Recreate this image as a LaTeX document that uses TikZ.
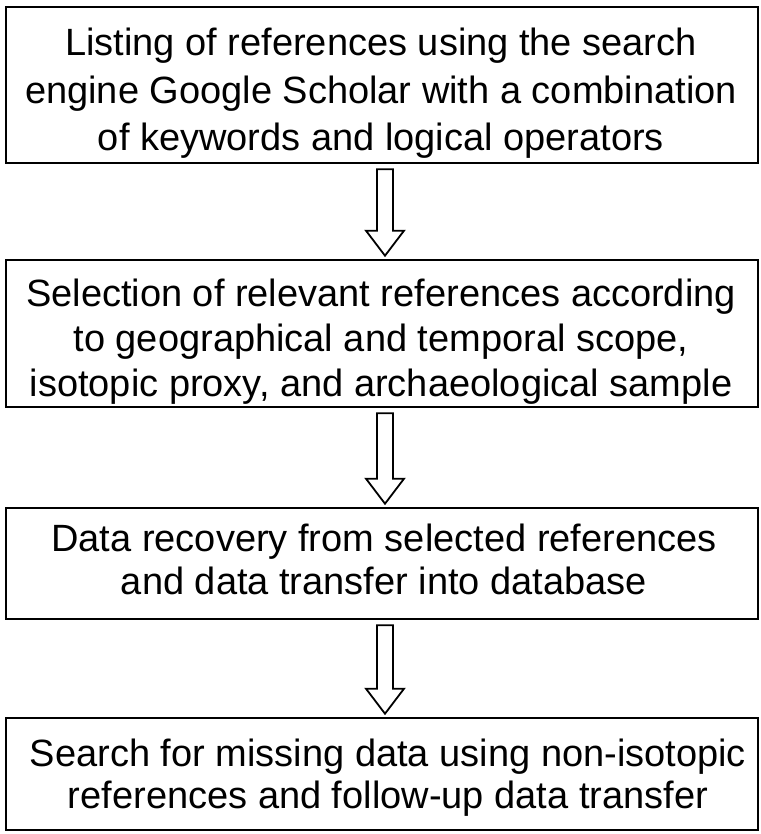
\documentclass[tikz,border=0pt]{standalone}
\usepackage{fontspec}
\setmainfont{Liberation Sans}
\usetikzlibrary{calc}
\tikzset{
  box/.style={draw=black, line width=2.6pt, fill=white, minimum width=752pt, inner sep=0pt},
  txt/.style={anchor=base, inner sep=0pt},
  arrowline/.style={draw=black, line width=1.8pt, fill=white, line join=miter},
}
\newcommand\blockarr[2]{%
  \draw[arrowline] ($(#1.south)+(-5,5)$) -- ($(#2.north)+(-5,-28)$) -- ($(#2.north)+(-16,-28)$)
    -- ($(#2.north)+(3,-3)$) -- ($(#2.north)+(22,-28)$) -- ($(#2.north)+(11,-28)$)
    -- ($(#1.south)+(11,5)$) -- cycle;}
\newcommand\lines[2]{\fontsize{38}{#1}\selectfont\begin{tabular}[t]{@{}c@{}}#2\end{tabular}}
\begin{document}
\begin{tikzpicture}[x=1pt,y=-1pt]
\useasboundingbox (0,0) rectangle (760,834);
\fill[white] (0,0) rectangle (760,834);
\node[box, minimum height=156pt] (b1) at (382,85) {};
\node[box, minimum height=147pt] (b2) at (382,333.5) {};
\node[box, minimum height=111pt] (b3) at (382,563.5) {};
\node[box, minimum height=112pt] (b4) at (382,774) {};
\node[txt] (t1) at (381,56)
  {\lines{47.5}{Listing of references using the search\\engine Google Scholar with a combination\\of keywords and logical operators}};
\node[txt] (t2) at (381,306)
  {\lines{45}{Selection of relevant references according\\to geographical and temporal scope,\\isotopic proxy, and archaeological sample}};
\node[txt] (t3) at (384,551)
  {\lines{43}{Data recovery from selected references\\and data transfer into database}};
\node[txt] (t4) at (388,766)
  {\lines{42}{Search for missing data using non-isotopic\\references and follow-up data transfer}};
\blockarr{b1}{b2}
\blockarr{b2}{b3}
\blockarr{b3}{b4}
\end{tikzpicture}
\end{document}
